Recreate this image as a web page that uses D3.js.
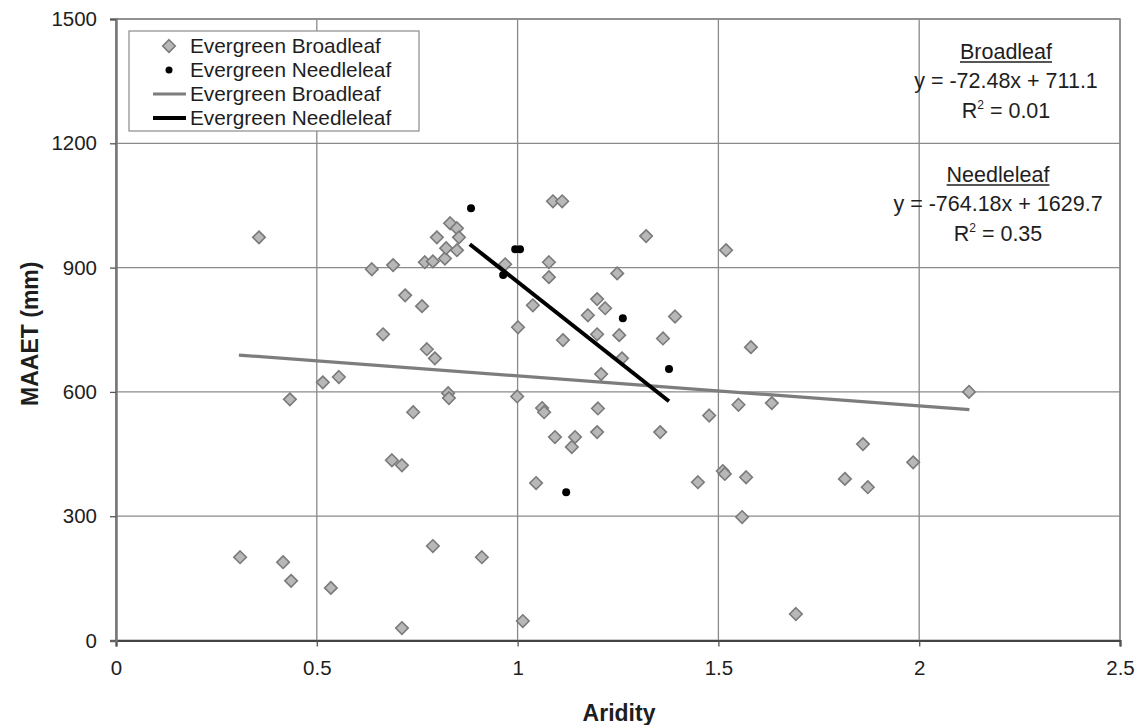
<!DOCTYPE html>
<html><head><meta charset="utf-8">
<script src="https://cdn.jsdelivr.net/npm/d3@7"></script>
<style>
body{margin:0;background:#fff}
svg{display:block}
text{font-family:"Liberation Sans",Arial,sans-serif;fill:#1e1e1e}
</style>
</head><body><svg id="c" width="1138" height="725"></svg>
<script>
// ---- data ----
const xTicks = [0, 0.5, 1, 1.5, 2, 2.5];
const xTickLabels = ["0", "0.5", "1", "1.5", "2", "2.5"];
const yTicks = [0, 300, 600, 900, 1200, 1500];
const yTickLabels = ["0", "300", "600", "900", "1200", "1500"];

const broadleafX = [0.309,0.356,0.416,0.436,0.433,0.515,0.555,0.535,0.637,0.690,0.665,0.720,0.762,0.687,0.712,0.740,0.789,0.712,
  0.769,0.789,0.819,0.822,0.799,0.832,0.849,0.854,0.849,0.774,0.794,0.827,0.829,0.911,0.969,1.001,0.999,1.013,1.038,1.046,
  1.061,1.066,1.078,1.078,1.088,1.111,1.093,1.143,1.135,1.113,1.175,1.198,1.218,1.198,1.200,1.198,1.208,1.248,1.253,1.260,
  1.320,1.355,1.362,1.392,1.449,1.477,1.511,1.516,1.519,1.550,1.569,1.559,1.581,1.633,1.693,1.815,1.860,1.872,1.985,2.124];
const broadleafY = [201,973,189,144,582,623,636,127,896,906,739,833,807,435,423,551,228,30,
  913,915,922,947,973,1007,995,973,942,703,681,597,585,201,908,756,589,47,809,380,
  561,551,913,877,1060,1060,491,491,467,725,785,824,802,739,560,503,643,886,737,681,
  976,503,729,782,382,543,409,402,942,569,394,298,708,573,64,390,474,370,430,600];

const needleleafX = [0.884,0.994,1.006,0.964,1.262,1.377,1.121];
const needleleafY = [1043,944,944,882,778,655,358];

// regression lines: slope, intercept and the x-range they are drawn over
const broadleafFit = [-72.48, 711.1];
const broadleafFitRange = [0.306, 2.125];
const needleleafFit = [-764.18, 1629.7];
const needleleafFitRange = [0.881, 1.377];

const legendLabels = ["Evergreen Broadleaf","Evergreen Needleleaf","Evergreen Broadleaf","Evergreen Needleleaf"];

// ---- layout ----
const svg = d3.select("#c");
const L = 116, R = 1120, T = 19, B = 640.5;
const x = d3.scaleLinear().domain([0, 2.5]).range([L, R]);
const y = d3.scaleLinear().domain([0, 1500]).range([B, T]);

const gridC = "#8a8a8a";
svg.append("g").selectAll("line").data(xTicks).join("line")
  .attr("x1", d => x(d)).attr("x2", d => x(d)).attr("y1", T).attr("y2", B)
  .attr("stroke", gridC).attr("stroke-width", 1.3);
svg.append("g").selectAll("line").data(yTicks).join("line")
  .attr("x1", L).attr("x2", R).attr("y1", d => y(d)).attr("y2", d => y(d))
  .attr("stroke", gridC).attr("stroke-width", 1.3);
svg.append("rect").attr("x", L).attr("y", T).attr("width", R - L).attr("height", B - T)
  .attr("fill", "none").attr("stroke", "#8a8a8a").attr("stroke-width", 1.5);

const xAxis = d3.axisBottom(x).tickValues(xTicks).tickFormat((d, i) => xTickLabels[i]).tickSize(6).tickPadding(14);
const yAxis = d3.axisLeft(y).tickValues(yTicks).tickFormat((d, i) => yTickLabels[i]).tickSize(6).tickPadding(13);
const gx = svg.append("g").attr("transform", `translate(0,${B})`).call(xAxis);
const gy = svg.append("g").attr("transform", `translate(${L},0)`).call(yAxis);
[gx, gy].forEach(g => {
  g.select(".domain").attr("stroke", "#444").attr("stroke-width", 2.2);
  g.selectAll(".tick line").attr("stroke", "#555").attr("stroke-width", 1.3);
  g.selectAll(".tick text").attr("font-size", 20.5).attr("font-family", '"Liberation Sans",Arial,sans-serif').attr("fill", "#1e1e1e");
});
gy.select(".domain").attr("stroke", "#777").attr("stroke-width", 2.5);

svg.append("text").attr("x", (L + R) / 2 + 1).attr("y", 721).attr("text-anchor", "middle")
  .attr("font-size", 23).attr("font-weight", "bold").text("Aridity");
svg.append("text").attr("transform", `translate(38,${(T + B) / 2 + 4}) rotate(-90)`).attr("text-anchor", "middle")
  .attr("font-size", 23).attr("font-weight", "bold").text("MAAET (mm)");

const line = d3.line().x(d => x(d[0])).y(d => y(d[1]));
const fitPts = (fit, rng) => rng.map(v => [v, fit[0] * v + fit[1]]);
svg.append("path").datum(fitPts(broadleafFit, broadleafFitRange)).attr("d", line)
  .attr("stroke", "#7d7d7d").attr("stroke-width", 3.2).attr("fill", "none");

const diamond = d3.symbol().type(d3.symbolDiamond2).size(100);
const bl = broadleafX.map((v, i) => [v, broadleafY[i]]);
svg.append("g").selectAll("path").data(bl).join("path")
  .attr("d", diamond).attr("transform", d => `translate(${x(d[0])},${y(d[1])})`)
  .attr("fill", "#b8b8b8").attr("stroke", "#7a7a7a").attr("stroke-width", 1.6);

svg.append("path").datum(fitPts(needleleafFit, needleleafFitRange)).attr("d", line)
  .attr("stroke", "#000").attr("stroke-width", 4).attr("fill", "none");

const nl = needleleafX.map((v, i) => [v, needleleafY[i]]);
svg.append("g").selectAll("circle").data(nl).join("circle")
  .attr("cx", d => x(d[0])).attr("cy", d => y(d[1])).attr("r", 4).attr("fill", "#000");

const lg = svg.append("g");
lg.append("rect").attr("x", 129).attr("y", 31).attr("width", 290).attr("height", 100)
  .attr("fill", "#fff").attr("stroke", "#8a8a8a").attr("stroke-width", 1.2);
const rowY = i => 46 + i * 24;
lg.selectAll("text").data(legendLabels).join("text")
  .attr("x", 190).attr("y", (d, i) => rowY(i)).attr("dy", "0.35em").attr("font-size", 20.8).text(d => d);
lg.append("path").attr("d", diamond).attr("transform", `translate(169,${rowY(0)})`)
  .attr("fill", "#b8b8b8").attr("stroke", "#7a7a7a").attr("stroke-width", 1.6);
lg.append("circle").attr("cx", 169).attr("cy", rowY(1)).attr("r", 3.5).attr("fill", "#000");
lg.append("line").attr("x1", 153).attr("x2", 186).attr("y1", rowY(2)).attr("y2", rowY(2))
  .attr("stroke", "#7d7d7d").attr("stroke-width", 3.2);
lg.append("line").attr("x1", 153).attr("x2", 186).attr("y1", rowY(3)).attr("y2", rowY(3))
  .attr("stroke", "#000").attr("stroke-width", 4);

function eq(cx, cy, title, formula, r2) {
  const g = svg.append("g");
  const t = g.append("text").attr("x", cx).attr("y", cy).attr("text-anchor", "middle")
    .attr("font-size", 21.5).text(title);
  const bb = t.node().getBBox();
  g.append("line").attr("x1", bb.x).attr("x2", bb.x + bb.width).attr("y1", cy + 3).attr("y2", cy + 3)
    .attr("stroke", "#1e1e1e").attr("stroke-width", 1.5);
  g.append("text").attr("x", cx).attr("y", cy + 29).attr("text-anchor", "middle")
    .attr("font-size", 21.5).text(formula);
  const r = g.append("text").attr("x", cx).attr("y", cy + 59).attr("text-anchor", "middle").attr("font-size", 21.5);
  r.append("tspan").text("R");
  r.append("tspan").attr("font-size", 12).attr("dy", -9).text("2");
  r.append("tspan").attr("dy", 9).text(" = " + r2);
}
eq(1006, 59, "Broadleaf", "y = -72.48x + 711.1", "0.01");
eq(998, 182, "Needleleaf", "y = -764.18x + 1629.7", "0.35");
</script>
</body></html>
